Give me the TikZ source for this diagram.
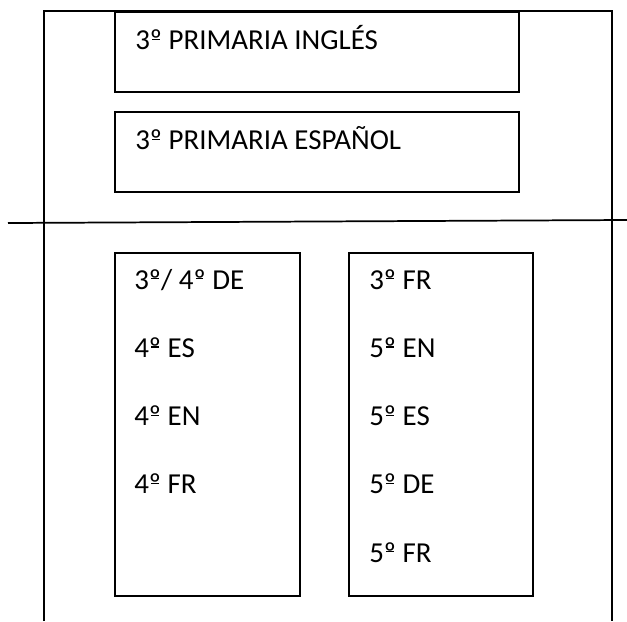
\documentclass[tikz,border=0pt]{standalone}
\usepackage{fontspec}
\setmainfont{Carlito}
\usepackage{tikz}
\newcommand{\ordm}{\sbox0{º}\rlap{º}\makebox[\wd0]{\rule[0.33em]{0.62\wd0}{0.05em}}}

\begin{document}
\begin{tikzpicture}[x=0.75pt, y=-0.75pt,
	box/.style={draw, line width=1.3pt, minimum width=#1, inner sep=0pt, anchor=north west},
	txt/.style={anchor=base west, inner sep=0pt, font=\fontsize{21.7pt}{26pt}\selectfont}]
	
	% Fix page size
	\useasboundingbox (0,0) rectangle (627,621);
	
	% Draw outer frame
	\coordinate (fbl) at (44,621);
	\coordinate (ftl) at (44,11);
	\coordinate (ftr) at (612,11);
	\coordinate (fbr) at (612,621);
	\draw[line width=1.3pt] (fbl) -- (ftl) -- (ftr) -- (fbr);
	
	% Draw dividing line
	\coordinate (dl) at (8,223);
	\coordinate (dr) at (627,220);
	\draw[line width=1.3pt] (dl) -- (dr);
	
	% Top boxes
	\node[box=404*0.75pt, minimum height=80*0.75pt] (ingles) at (114,11) {};
	\node[box=404*0.75pt, minimum height=80*0.75pt] (espanol) at (114,111) {};
	\node[txt] (tingles) at (135,49.5) {3\ordm{} PRIMARIA INGLÉS};
	\node[txt] (tespanol) at (135,149.5) {3\ordm{} PRIMARIA ESPAÑOL};
	
	% Bottom boxes
	\node[box=185*0.75pt, minimum height=343*0.75pt] (left) at (114,252) {};
	\node[box=184*0.75pt, minimum height=343*0.75pt] (right) at (348,252) {};
	
	% Left list
	\foreach \t [count=\i] in {3\ordm/ 4\ordm{} DE, 4\ordm{} ES, 4\ordm{} EN, 4\ordm{} FR}
		\node[txt] (l\i) at (134,{289+68.25*(\i-1)}) {\t};
	
	% Right list
	\foreach \t [count=\i] in {3\ordm{} FR, 5\ordm{} EN, 5\ordm{} ES, 5\ordm{} DE, 5\ordm{} FR}
		\node[txt] (r\i) at (369,{289+68.25*(\i-1)}) {\t};
	
\end{tikzpicture}
\end{document}
